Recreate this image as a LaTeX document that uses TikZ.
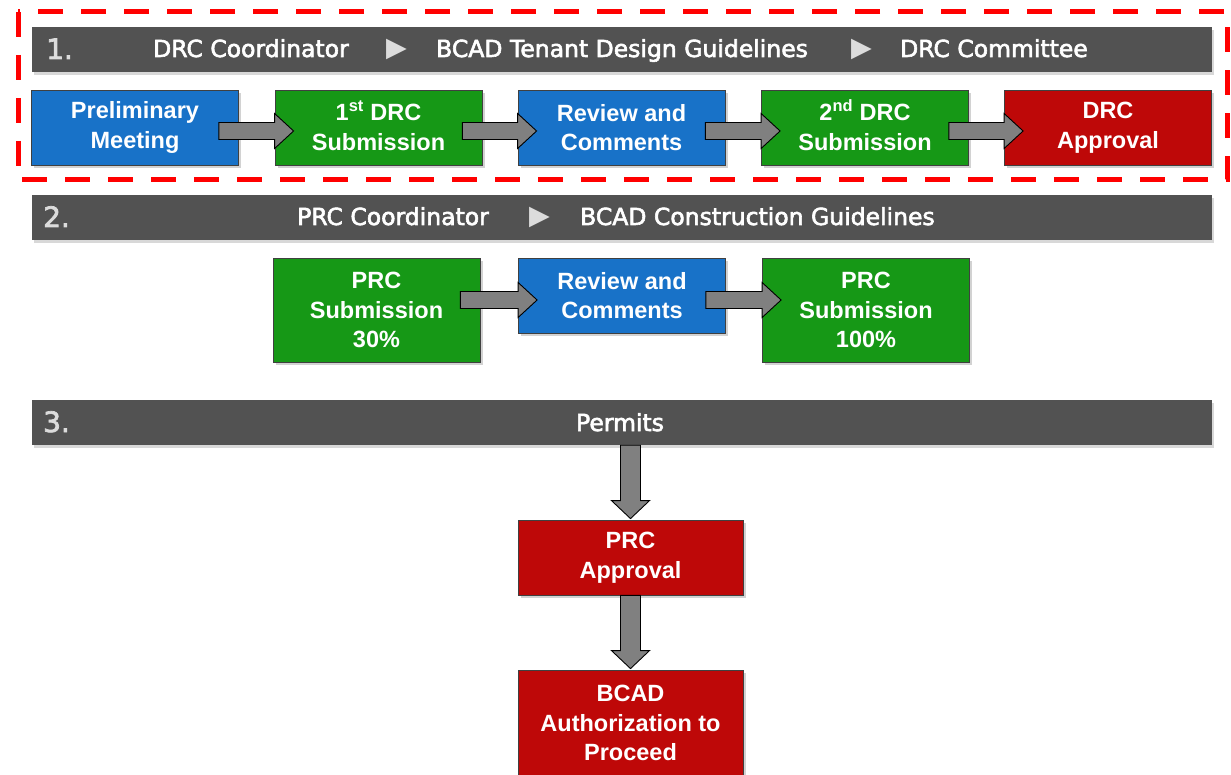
\documentclass[tikz,border=0pt]{standalone}
\usepackage{fontspec}
\usetikzlibrary{calc,shadows}

\newfontfamily\boxfamily{Liberation Sans}
\newfontfamily\headfamily[FakeBold=2.5]{DejaVu Sans}
\newfontfamily\markfamily{DejaVu Sans}

\definecolor{stageblue}{RGB}{24,114,200}
\definecolor{stagegreen}{RGB}{22,152,22}
\definecolor{stagered}{RGB}{190,8,8}
\definecolor{headgray}{RGB}{82,82,82}
\definecolor{numgray}{RGB}{220,220,220}
\definecolor{arrowgray}{RGB}{128,128,128}
\definecolor{fencered}{RGB}{255,0,0}

\tikzset{
  stage/.style={draw=black!75, line width=0.8pt, inner sep=0pt, align=center,
    text=white, font=\boxfamily\bfseries\fontsize{23.5pt}{29.5pt}\selectfont,
    minimum width=207pt, minimum height=75pt,
    drop shadow={shadow xshift=2.5pt, shadow yshift=-3pt, opacity=0.35}},
  bluestage/.style={stage, fill=stageblue},
  greenstage/.style={stage, fill=stagegreen},
  redstage/.style={stage, fill=stagered},
  headerbar/.style={fill=headgray, inner sep=0pt, minimum width=1180pt, minimum height=45pt,
    drop shadow={shadow xshift=1.5pt, shadow yshift=-3pt, opacity=0.3}},
  headtext/.style={text=white, font=\headfamily\fontsize{23.5pt}{28pt}\selectfont,
    inner sep=0pt, anchor=base west},
  headmark/.style={text=numgray, font=\markfamily\fontsize{27pt}{30pt}\selectfont,
    inner sep=0pt, anchor=base west},
  headnum/.style={text=numgray, font=\headfamily\fontsize{28pt}{30pt}\selectfont,
    inner sep=0pt, anchor=base west},
  blockarrow/.style={fill=arrowgray, draw=black, line width=0.9pt, line join=miter},
  stagefence/.style={draw=fencered, line width=5pt, dash pattern=on 25pt off 18pt}
}

% horizontal block arrow: #1 from-node, #2 to-node, #3 offset of its axis below #1's centre
\newcommand\hblockarrow[3]{%
  \path (#1.east) ++(-20,#3) coordinate (ha-s);
  \path (#2.west |- ha-s) coordinate (ha-h);
  \draw[blockarrow] ($(ha-s)+(0,-8.5)$) -- ($(ha-h)+(0,-8.5)$) -- ($(ha-h)+(0,-17.5)$)
    -- ($(ha-h)+(19,0)$) -- ($(ha-h)+(0,17.5)$) -- ($(ha-h)+(0,8.5)$)
    -- ($(ha-s)+(0,8.5)$) -- cycle;
}
% vertical block arrow: #1 start point, #2 target node
\newcommand\vblockarrow[2]{%
  \path (#2.north) ++(0,-1) coordinate (va-t);
  \path (va-t |- #1) coordinate (va-s);
  \draw[blockarrow] ($(va-s)+(-10,0)$) -- ($(va-t)+(-10,-18)$) -- ($(va-t)+(-19,-18)$)
    -- (va-t) -- ($(va-t)+(19,-18)$) -- ($(va-t)+(10,-18)$)
    -- ($(va-s)+(10,0)$) -- cycle;
}
\newcommand\ordsup[1]{\smash{\textsuperscript{#1}}}

\begin{document}
\begin{tikzpicture}[x=1pt, y=-1pt]
  \path[use as bounding box, clip] (0,0) rectangle (1231,775);
  \fill[white] (0,0) rectangle (1231,775);

  % ---- stage 1: design review ----
  \node[headerbar] (hdr1) at (622,49.5) {};
  \node[headnum]  (n1)  at (46,59)  {1.};
  \node[headtext] (h1a) at (153,57) {DRC Coordinator};
  \node[headmark] (h1b) at (386,57) {▶};
  \node[headtext] (h1c) at (436,57) {BCAD Tenant Design Guidelines};
  \node[headmark] (h1d) at (851,57) {▶};
  \node[headtext] (h1e) at (900,57) {DRC Committee};

  \node[bluestage]  (prelim) at (135,127.5)   {Preliminary\\Meeting};
  \node[greenstage] (sub1)   at (378.5,127.5) {1\ordsup{st} DRC\\Submission};
  \node[bluestage]  (rev1)   at (621.5,127.5) {Review and\\Comments};
  \node[greenstage] (sub2)   at (865,127.5)   {2\ordsup{nd} DRC\\Submission};
  \node[redstage]   (drcapp) at (1108,127.5)  {DRC\\Approval};

  \hblockarrow{prelim}{sub1}{3.5}
  \hblockarrow{sub1}{rev1}{3.5}
  \hblockarrow{rev1}{sub2}{3.5}
  \hblockarrow{sub2}{drcapp}{3.5}

  \draw[stagefence] (18,12) rectangle (1227,180);

  % ---- stage 2: construction review ----
  \node[headerbar] (hdr2) at (622,217.5) {};
  \node[headnum]  (n2)  at (43,227) {2.};
  \node[headtext] (h2a) at (297,225) {PRC Coordinator};
  \node[headmark] (h2b) at (529,225) {▶};
  \node[headtext] (h2c) at (580,225) {BCAD Construction Guidelines};

  \node[greenstage, minimum height=104pt] (prc30)  at (376.5,310) {PRC\\Submission\\30\%};
  \node[bluestage]                        (rev2)   at (622,295.5) {Review and\\Comments};
  \node[greenstage, minimum height=104pt] (prc100) at (866,310)   {PRC\\Submission\\100\%};

  \hblockarrow{prc30}{rev2}{-10}
  \hblockarrow{rev2}{prc100}{4.5}

  % ---- stage 3: permits ----
  \node[headerbar] (hdr3) at (622,422.5) {};
  \node[headnum]  (n3) at (43,432) {3.};
  \node[headtext, anchor=base] (h3a) at (620,431) {Permits};

  \node[redstage, minimum width=225pt] (prcapp) at (630.5,557.5) {PRC\\Approval};
  \node[redstage, minimum width=225pt, minimum height=106pt] (bcad) at (630.5,723)
    {BCAD\\Authorization to\\Proceed};

  \vblockarrow{hdr3.south}{prcapp}
  \vblockarrow{prcapp.south}{bcad}
\end{tikzpicture}
\end{document}
